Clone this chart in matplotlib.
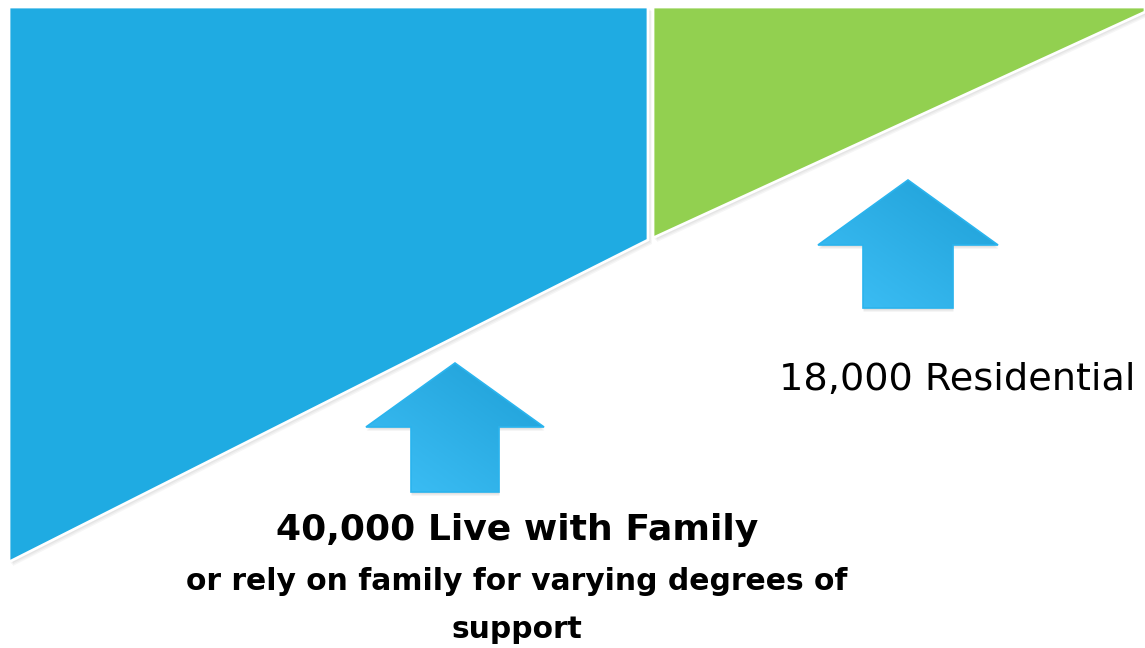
import numpy as np
import matplotlib.pyplot as plt
from matplotlib.patches import Polygon
from matplotlib.colors import LinearSegmentedColormap

# groups and labels
groups = ['Live with Family', 'Residential']
counts = [40000, 18000]
sub_text = ['or rely on family for varying degrees of', 'support']
colors = ['#1FABE2', '#92D050']

W, H = 1145, 648
fig = plt.figure(figsize=(W / 100, H / 100), dpi=100)
ax = fig.add_axes([0, 0, 1, 1])
ax.set_xlim(0, W)
ax.set_ylim(H, 0)
ax.axis('off')

# wedge shapes (blue = family, green = residential)
blue = [(9, 7), (648, 7), (648, 240), (9, 562)]
green = [(653, 7), (1145, 7), (1145, 12), (653, 238)]

for pts, c in [(blue, colors[0]), (green, colors[1])]:
    for k in range(1, 5):
        shadow = [(x + k, y + k) for x, y in pts]
        ax.add_patch(Polygon(shadow, closed=True, facecolor='#000000', alpha=0.035,
                             edgecolor='none', zorder=1))
    ax.add_patch(Polygon(pts, closed=True, facecolor=c, edgecolor='white',
                         linewidth=2, zorder=2))

# gradient up arrows
cmap = LinearSegmentedColormap.from_list('arr', ['#3EC0F7', '#1E9FD6'])


def up_arrow(cx, tip, base, half_head, half_shaft, bottom):
    pts = [(cx, tip), (cx + half_head, base), (cx + half_shaft, base),
           (cx + half_shaft, bottom), (cx - half_shaft, bottom),
           (cx - half_shaft, base), (cx - half_head, base)]
    for k in range(1, 5):
        sh = [(x + 0.5, y + k) for x, y in pts]
        ax.add_patch(Polygon(sh, closed=True, facecolor='#000000', alpha=0.04,
                             edgecolor='none', zorder=3))
    poly = Polygon(pts, closed=True, facecolor='none', edgecolor='#2AB4EE',
                   linewidth=1.2, zorder=5)
    ax.add_patch(poly)
    yy, xx = np.mgrid[0:1:100j, 0:1:100j]
    grad = (xx + 1 - yy) / 2
    im = ax.imshow(grad, cmap=cmap, extent=(cx - half_head, cx + half_head, bottom, tip),
                   origin='upper', aspect='auto', zorder=4)
    im.set_clip_path(poly)


up_arrow(455, 363, 427, 89, 44, 492)
up_arrow(908, 180, 245, 90, 45, 308)
ax.set_xlim(0, W)
ax.set_ylim(H, 0)

ax.text(957, 380, f'{counts[1]:,} {groups[1]}', ha='center', va='center',
        fontsize=27.5, color='black', family='DejaVu Sans')
ax.text(517, 530, f'{counts[0]:,} {groups[0]}', ha='center', va='center',
        fontsize=26, fontweight='bold', color='black', family='DejaVu Sans')
ax.text(517, 582, sub_text[0], ha='center', va='center',
        fontsize=21.4, fontweight='bold', color='black', family='DejaVu Sans')
ax.text(517, 630, sub_text[1], ha='center', va='center',
        fontsize=21.4, fontweight='bold', color='black', family='DejaVu Sans')

fig.savefig('out.png', dpi=100, facecolor='white')
